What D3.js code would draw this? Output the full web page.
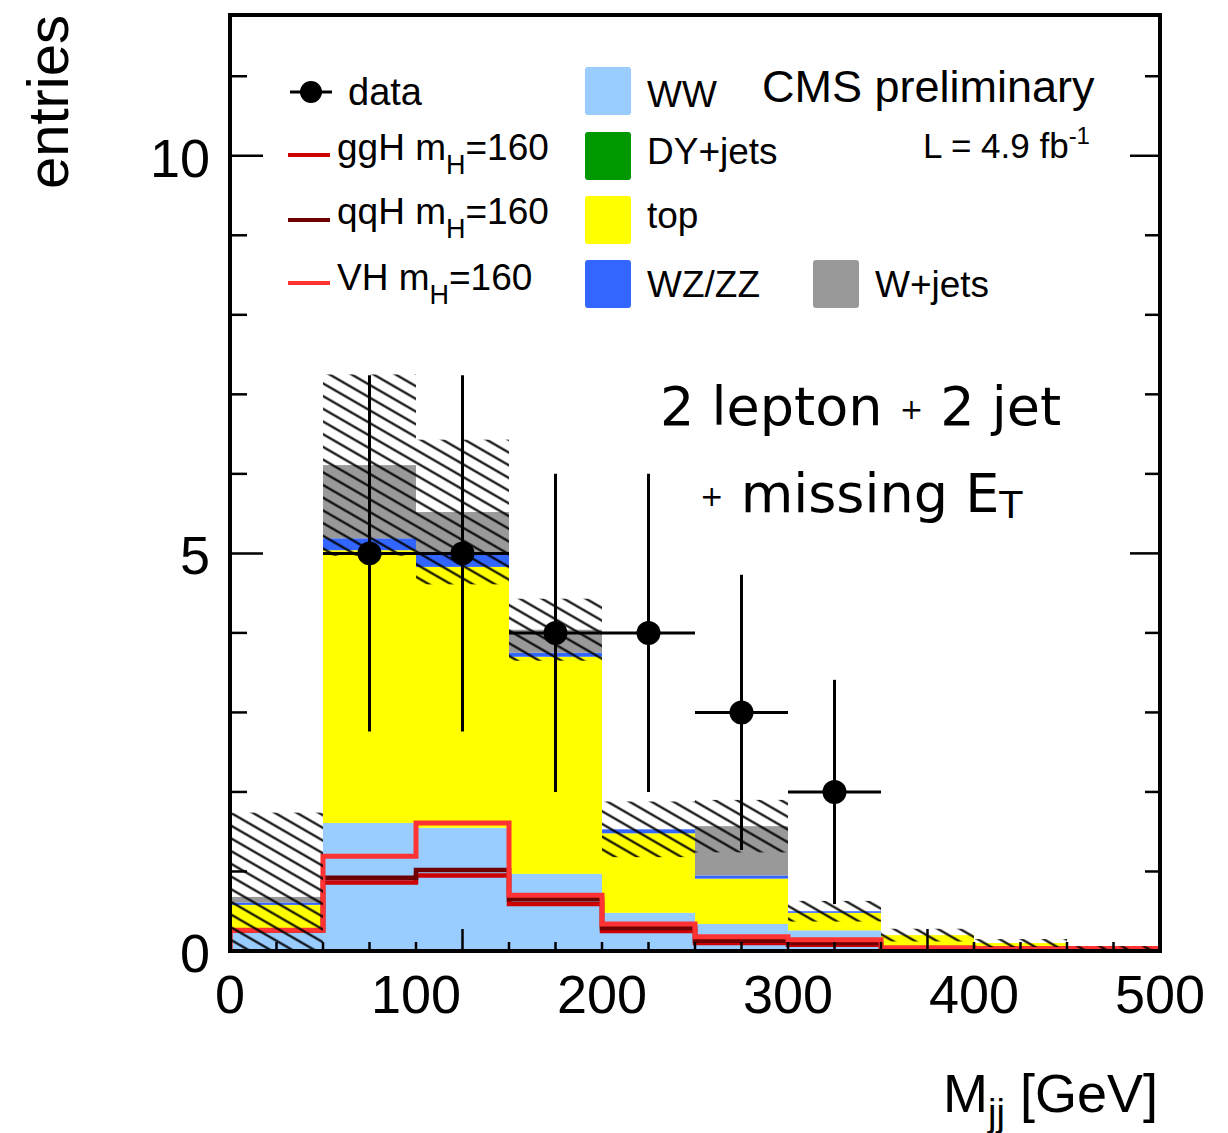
<!DOCTYPE html>
<html>
<head>
<meta charset="utf-8">
<script src="https://cdn.jsdelivr.net/npm/d3@7"></script>
<style>
  body { margin: 0; background: #fff; }
  svg { display: block; }
  text { font-family: "Liberation Sans", Arial, sans-serif; fill: #000; }
</style>
</head>
<body>
<svg width="1228" height="1133"></svg>
<script>
// bin lower edges of M_jj [GeV], 50 GeV wide
const binEdges = [0, 50, 100, 150, 200, 250, 300, 350, 400, 450];
const binWidth = 50;

// background stack, bottom to top
const wwVals = [0.28, 1.61, 1.55, 0.97, 0.48, 0.34, 0.26, 0.06, 0.04, 0.02];
const dyVals = [0, 0, 0, 0, 0, 0, 0, 0, 0, 0];
const topVals = [0.30, 3.43, 3.28, 2.73, 1.00, 0.57, 0.22, 0.14, 0.06, 0.01];
const wzVals = [0.03, 0.15, 0.17, 0.05, 0.05, 0.04, 0.02, 0, 0, 0];
const wjetsVals = [0.07, 0.92, 0.52, 0.29, 0, 0.62, 0, 0, 0, 0];
// total background uncertainty (hatched band)
const bkgErr = [1.06, 1.14, 0.91, 0.39, 0.35, 0.33, 0.13, 0.08, 0.05, 0.03];

// signal curves as drawn
const ggHVals = [0.26, 0.86, 0.95, 0.59, 0.25, 0.10, 0.08, 0.03, 0.02, 0.02];
const qqHVals = [0.26, 0.92, 1.02, 0.65, 0.29, 0.13, 0.10, 0.03, 0.03, 0.02];
const vhVals = [0.26, 1.19, 1.61, 0.70, 0.34, 0.18, 0.14, 0.04, 0.03, 0.03];

// observed data
const dataX = [75, 125, 175, 225, 275, 325];
const dataY = [5, 5, 4, 4, 3, 2];
const dataErr = [2.24, 2.24, 2.0, 2.0, 1.73, 1.41];

// axis ticks
const xLabels = [0, 100, 200, 300, 400, 500];
const xTicks = d3.range(25, 500, 25);
const xLongTicks = [125, 375];
const yLabels = [0, 5, 10];
const yTicks = d3.range(1, 12, 1);

class StackPlot {
    constructor() {
        this.svg = d3.select('svg');
        this.left = 230;
        this.right = 1160;
        this.top = 15;
        this.bottom = 951;
        this.x = d3.scaleLinear().domain([0, 500]).range([this.left, this.right]);
        this.y = d3.scaleLinear().domain([0, 11.77]).range([this.bottom, this.top]);
        this.draw();
    }

    draw() {
        const x = this.x, y = this.y, svg = this.svg;
        const defs = svg.append('defs');
        defs.append('clipPath').attr('id', 'plot')
            .append('rect')
            .attr('x', this.left).attr('y', this.top)
            .attr('width', this.right - this.left).attr('height', this.bottom - this.top);
        const hatch = defs.append('pattern').attr('id', 'hatch')
            .attr('patternUnits', 'userSpaceOnUse')
            .attr('width', 11).attr('height', 11)
            .attr('patternTransform', 'rotate(30)');
        hatch.append('line')
            .attr('x1', 0).attr('x2', 11).attr('y1', 5.5).attr('y2', 5.5)
            .attr('stroke', '#000').attr('stroke-width', 2.1);

        const g = svg.append('g').attr('clip-path', 'url(#plot)');

        // stacked backgrounds
        const layers = [
            { vals: wwVals, color: '#99ccff' },
            { vals: dyVals, color: '#009900' },
            { vals: topVals, color: '#ffff00' },
            { vals: wzVals, color: '#3366ff' },
            { vals: wjetsVals, color: '#999999' }
        ];
        const base = binEdges.map(() => 0);
        layers.forEach(l => {
            g.append('g').selectAll('rect')
                .data(binEdges)
                .enter().append('rect')
                .attr('x', (d) => x(d))
                .attr('width', x(binWidth) - x(0))
                .attr('y', (d, i) => y(base[i] + l.vals[i]))
                .attr('height', (d, i) => y(base[i]) - y(base[i] + l.vals[i]))
                .attr('fill', l.color);
            l.vals.forEach((v, i) => { base[i] += v; });
        });
        this.total = base;

        // signal histograms
        const signals = [
            { vals: ggHVals, color: '#cc0000', w: 4.5 },
            { vals: qqHVals, color: '#6e0000', w: 4.5 },
            { vals: vhVals, color: '#ff3333', w: 5 }
        ];
        const line = d3.line().x(d => x(d[0])).y(d => y(d[1]));
        signals.forEach(s => {
            const pts = [[0, 0]];
            binEdges.forEach((e, i) => {
                pts.push([e, s.vals[i]]);
                pts.push([e + binWidth, s.vals[i]]);
            });
            pts.push([500, 0]);
            g.append('path')
                .attr('d', line(pts))
                .attr('fill', 'none')
                .attr('stroke', s.color)
                .attr('stroke-width', s.w);
        });

        // uncertainty band
        g.append('g').selectAll('rect')
            .data(binEdges)
            .enter().append('rect')
            .attr('x', (d) => x(d))
            .attr('width', x(binWidth) - x(0))
            .attr('y', (d, i) => y(this.total[i] + bkgErr[i]))
            .attr('height', (d, i) => y(Math.max(0, this.total[i] - bkgErr[i])) - y(this.total[i] + bkgErr[i]))
            .attr('fill', 'url(#hatch)');

        // data points
        const pts = g.append('g');
        dataX.forEach((d, i) => {
            pts.append('line')
                .attr('x1', x(d)).attr('x2', x(d))
                .attr('y1', y(dataY[i] - dataErr[i])).attr('y2', y(dataY[i] + dataErr[i]))
                .attr('stroke', '#000').attr('stroke-width', 3);
            pts.append('line')
                .attr('x1', x(d - binWidth / 2)).attr('x2', x(d + binWidth / 2))
                .attr('y1', y(dataY[i])).attr('y2', y(dataY[i]))
                .attr('stroke', '#000').attr('stroke-width', 3);
            pts.append('circle')
                .attr('cx', x(d)).attr('cy', y(dataY[i])).attr('r', 12);
        });

        this.axes();
        this.legend();
    }

    axes() {
        const x = this.x, y = this.y, svg = this.svg;
        const ax = svg.append('g').attr('stroke', '#000').attr('stroke-width', 2.5);
        // left and right y ticks
        yTicks.forEach(t => {
            const major = yLabels.indexOf(t) >= 0;
            ax.append('line')
                .attr('x1', this.left).attr('x2', this.left + (major ? 33 : 17))
                .attr('y1', y(t)).attr('y2', y(t));
            ax.append('line')
                .attr('x1', this.right).attr('x2', this.right - (major ? 30 : 15))
                .attr('y1', y(t)).attr('y2', y(t));
        });
        // bottom x ticks
        xTicks.forEach(t => {
            const long = xLongTicks.indexOf(t) >= 0;
            ax.append('line')
                .attr('x1', x(t)).attr('x2', x(t))
                .attr('y1', this.bottom).attr('y2', this.bottom - (long ? 22 : 9));
        });
        svg.append('rect')
            .attr('x', this.left).attr('y', this.top)
            .attr('width', this.right - this.left).attr('height', this.bottom - this.top)
            .attr('fill', 'none').attr('stroke', '#000').attr('stroke-width', 4);

        svg.append('g').selectAll('text')
            .data(yLabels)
            .enter().append('text')
            .attr('x', 210).attr('y', (d) => y(d) + 21)
            .attr('text-anchor', 'end')
            .style('font-size', '54px')
            .text((d) => d);
        svg.append('g').selectAll('text')
            .data(xLabels)
            .enter().append('text')
            .attr('x', (d) => x(d)).attr('y', 1013)
            .attr('text-anchor', 'middle')
            .style('font-size', '54px')
            .text((d) => d);

        svg.append('text')
            .attr('transform', 'translate(68,15) rotate(-90)')
            .attr('text-anchor', 'end')
            .style('font-size', '58px')
            .text('entries');

        const xt = svg.append('text')
            .attr('x', 1158).attr('y', 1112)
            .attr('text-anchor', 'end')
            .style('font-size', '54px');
        xt.append('tspan').text('M');
        xt.append('tspan').attr('dy', 14).style('font-size', '38px').text('jj');
        xt.append('tspan').attr('dy', -14).text(' [GeV]');
    }

    legend() {
        const svg = this.svg;
        const lg = svg.append('g');
        // data
        lg.append('line').attr('x1', 290).attr('x2', 332).attr('y1', 92).attr('y2', 92)
            .attr('stroke', '#000').attr('stroke-width', 3);
        lg.append('circle').attr('cx', 311).attr('cy', 92).attr('r', 11);
        lg.append('text').attr('x', 348).attr('y', 105).style('font-size', '38px').text('data');

        const sigRows = [
            { name: 'ggH', color: '#cc0000', ly: 155, ty: 160 },
            { name: 'qqH', color: '#6e0000', ly: 220, ty: 224 },
            { name: 'VH', color: '#ff3333', ly: 283, ty: 290 }
        ];
        sigRows.forEach(r => {
            lg.append('line').attr('x1', 288).attr('x2', 330).attr('y1', r.ly).attr('y2', r.ly)
                .attr('stroke', r.color).attr('stroke-width', 4);
            const t = lg.append('text').attr('x', 337).attr('y', r.ty).style('font-size', '37px');
            t.append('tspan').text(r.name + ' m');
            t.append('tspan').attr('dy', 14).style('font-size', '27px').text('H');
            t.append('tspan').attr('dy', -14).text('=160');
        });

        const boxes = [
            { name: 'WW', color: '#99ccff', bx: 585, by: 67, tx: 647, ty: 107 },
            { name: 'DY+jets', color: '#009900', bx: 585, by: 132, tx: 647, ty: 164 },
            { name: 'top', color: '#ffff00', bx: 585, by: 196, tx: 647, ty: 228 },
            { name: 'WZ/ZZ', color: '#3366ff', bx: 585, by: 260, tx: 647, ty: 297 },
            { name: 'W+jets', color: '#999999', bx: 813, by: 260, tx: 875, ty: 297 }
        ];
        boxes.forEach(b => {
            lg.append('rect').attr('x', b.bx).attr('y', b.by)
                .attr('width', 46).attr('height', 48).attr('rx', 3)
                .attr('fill', b.color);
            lg.append('text').attr('x', b.tx).attr('y', b.ty).style('font-size', '37px').text(b.name);
        });

        lg.append('text').attr('x', 762).attr('y', 102).style('font-size', '45px').text('CMS preliminary');
        const lumi = lg.append('text').attr('x', 923).attr('y', 158).style('font-size', '35px');
        lumi.append('tspan').text('L = 4.9 fb');
        lumi.append('tspan').attr('dy', -14).style('font-size', '24px').text('-1');

        // selection label
        const sel1 = lg.append('text').attr('x', 660).attr('y', 425)
            .style('font-family', '"DejaVu Sans", sans-serif').style('font-size', '54px');
        sel1.append('tspan').text('2 lepton ');
        sel1.append('tspan').style('font-size', '28px').attr('dy', -6).text('+');
        sel1.append('tspan').attr('dy', 6).text(' 2 jet');
        const sel2 = lg.append('text').attr('x', 700).attr('y', 512)
            .style('font-family', '"DejaVu Sans", sans-serif').style('font-size', '54px');
        sel2.append('tspan').style('font-size', '28px').attr('dy', -6).text('+');
        sel2.append('tspan').attr('dy', 6).text(' missing E');
        sel2.append('tspan').attr('dy', 6).style('font-size', '38px').text('T');
    }
}

const plot = new StackPlot();
</script>
</body>
</html>
